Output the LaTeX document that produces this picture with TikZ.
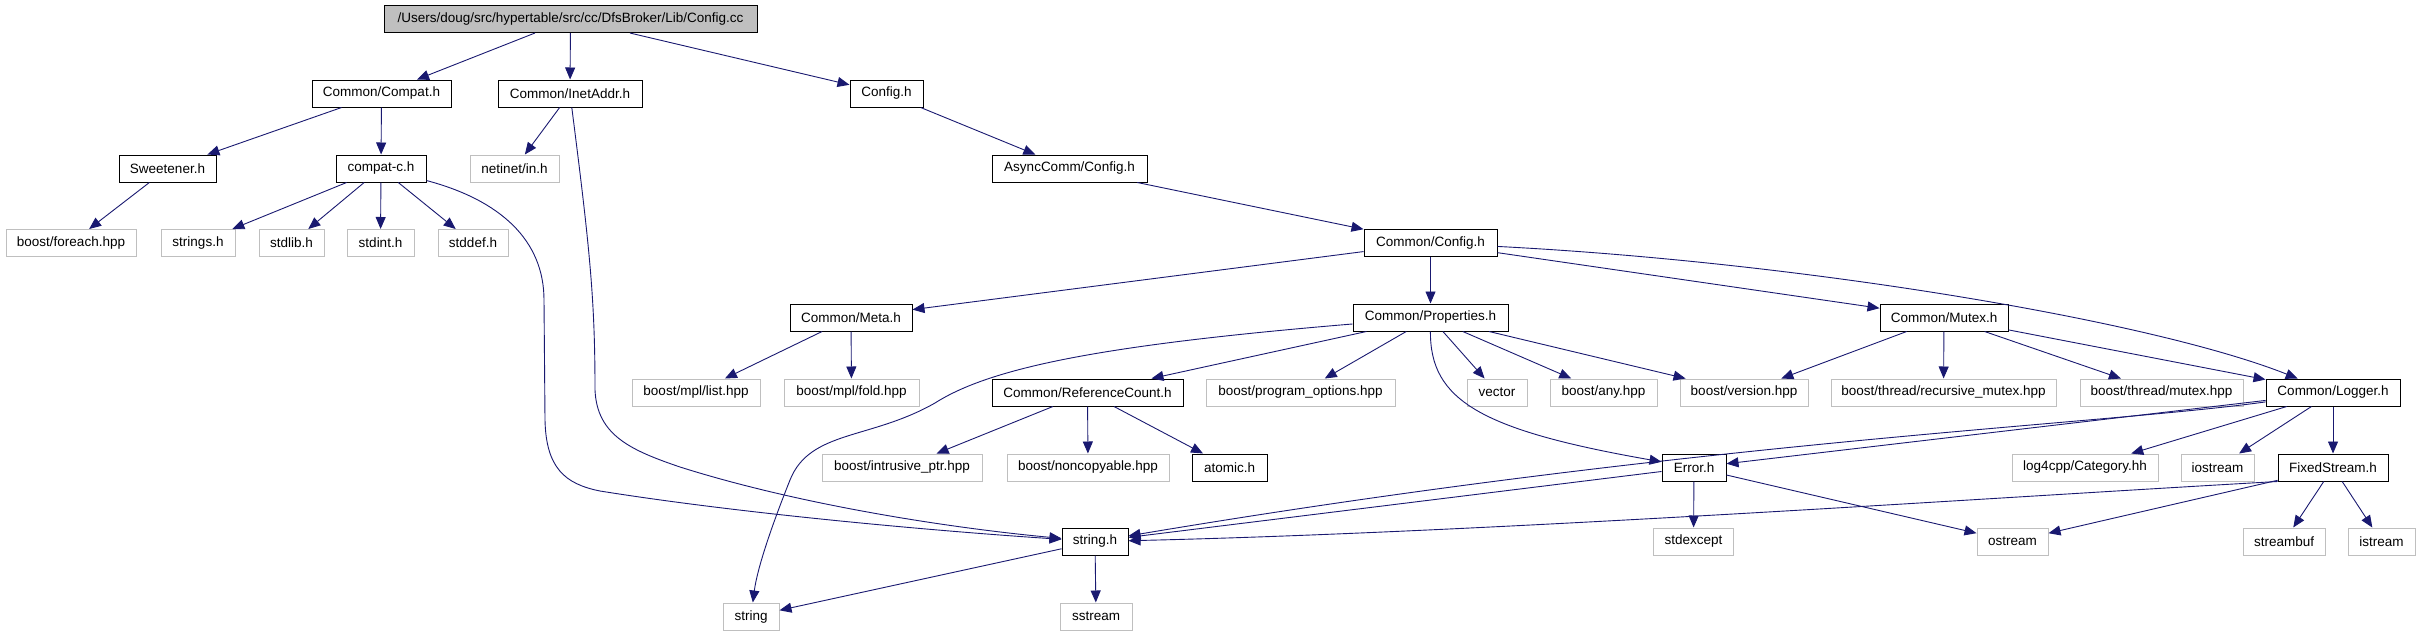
\documentclass[tikz,border=0pt]{standalone}
\usepackage{fontspec}
\setmainfont{Liberation Sans}
\usetikzlibrary{arrows.meta}
\definecolor{edgec}{HTML}{191970}
\definecolor{extc}{HTML}{BFBFBF}
\begin{document}
\begin{tikzpicture}[x=1pt,y=-1pt,
 box/.style={draw=black, line width=1pt, minimum height=27pt, inner sep=0pt, font=\fontsize{13.5}{16}\selectfont},
 ext/.style={box, draw=extc},
 rootbox/.style={box, fill=extc},
 edge/.style={draw=edgec, line width=0.9pt, -{Triangle[length=12pt,width=10pt]}}]
\useasboundingbox (0,0) rectangle (2427,635);
% row 0
\node[rootbox, minimum width=373pt] (root) at (570.5,19) {/Users/doug/src/hypertable/src/cc/DfsBroker/Lib/Config.cc};
% row 1
\node[box, minimum width=139pt] (compat) at (381.5,93.5) {Common/Compat.h};
\node[box, minimum width=144pt] (inet) at (570,93.5) {Common/InetAddr.h};
\node[box, minimum width=73pt] (cfgh) at (886.5,93.5) {Config.h};
% row 2
\node[box, minimum width=97pt] (sweet) at (167.5,168.5) {Sweetener.h};
\node[box, minimum width=90pt] (compatc) at (381,168.5) {compat-c.h};
\node[ext, minimum width=89pt] (netinet) at (514.5,168.5) {netinet/in.h};
\node[box, minimum width=155pt] (async) at (1069.5,168.5) {AsyncComm/Config.h};
% row 3
\node[ext, minimum width=130pt] (foreach) at (71,243) {boost/foreach.hpp};
\node[ext, minimum width=74pt] (strings) at (198,243) {strings.h};
\node[ext, minimum width=65pt] (stdlib) at (291.5,243) {stdlib.h};
\node[ext, minimum width=67pt] (stdint) at (380.5,243) {stdint.h};
\node[ext, minimum width=70pt] (stddef) at (473,243) {stddef.h};
\node[box, minimum width=133pt] (ccfg) at (1430.5,243) {Common/Config.h};
% row 4
\node[box, minimum width=122pt] (meta) at (851,317.5) {Common/Meta.h};
\node[box, minimum width=155pt] (props) at (1430.5,317.5) {Common/Properties.h};
\node[box, minimum width=128pt] (mutex) at (1944,317.5) {Common/Mutex.h};
% row 5
\node[ext, minimum width=128pt] (mpllist) at (696,392.5) {boost/mpl/list.hpp};
\node[ext, minimum width=135pt] (mplfold) at (851.5,392.5) {boost/mpl/fold.hpp};
\node[box, minimum width=191pt] (refc) at (1087.5,392.5) {Common/ReferenceCount.h};
\node[ext, minimum width=189pt] (progopt) at (1300.5,392.5) {boost/program\_options.hpp};
\node[ext, minimum width=60pt] (vector) at (1497,392.5) {vector};
\node[ext, minimum width=107pt] (any) at (1603.5,392.5) {boost/any.hpp};
\node[ext, minimum width=128pt] (version) at (1744,392.5) {boost/version.hpp};
\node[ext, minimum width=225pt] (recmutex) at (1943.5,392.5) {boost/thread/recursive\_mutex.hpp};
\node[ext, minimum width=163pt] (thrmutex) at (2161.5,392.5) {boost/thread/mutex.hpp};
\node[box, minimum width=134pt] (logger) at (2333,392.5) {Common/Logger.h};
% row 6
\node[ext, minimum width=160pt] (intrusive) at (902,467.5) {boost/intrusive\_ptr.hpp};
\node[ext, minimum width=162pt] (noncopy) at (1088,467.5) {boost/noncopyable.hpp};
\node[box, minimum width=75pt] (atomic) at (1229.5,467.5) {atomic.h};
\node[box, minimum width=64pt] (error) at (1694,467.5) {Error.h};
\node[ext, minimum width=146pt] (log4cpp) at (2085,467.5) {log4cpp/Category.hh};
\node[ext, minimum width=73pt] (iostream) at (2217.5,467.5) {iostream};
\node[box, minimum width=110pt] (fixed) at (2333,467.5) {FixedStream.h};
% row 7
\node[box, minimum width=66pt] (stringh) at (1095,541.5) {string.h};
\node[ext, minimum width=80pt] (stdexcept) at (1693.5,541.5) {stdexcept};
\node[ext, minimum width=71pt] (ostream) at (2012.5,541.5) {ostream};
\node[ext, minimum width=82pt] (streambuf) at (2284,541.5) {streambuf};
\node[ext, minimum width=67pt] (istream) at (2381.5,541.5) {istream};
% row 8
\node[ext, minimum width=56pt] (string) at (751,616.5) {string};
\node[ext, minimum width=72pt] (sstream) at (1096,616.5) {sstream};
% edges
\draw[edge] (root) -- (compat);
\draw[edge] (root) -- (inet);
\draw[edge] (root) -- (cfgh);
\draw[edge] (compat) -- (sweet);
\draw[edge] (compat) -- (compatc);
\draw[edge] (sweet) -- (foreach);
\draw[edge] (compatc) -- (strings);
\draw[edge] (compatc) -- (stdlib);
\draw[edge] (compatc) -- (stdint);
\draw[edge] (compatc) -- (stddef);
\draw[edge] (compatc) .. controls (500,200) and (544,240) .. (544,300) -- (545,420) .. controls (546,468) and (565,484) .. (600,491) .. controls (750,515) and (950,532) .. (stringh);
\draw[edge] (inet) -- (netinet);
\draw[edge] (inet) .. controls (590,250) and (595,300) .. (595,390) .. controls (597,435) and (630,450) .. (680,467) .. controls (800,505) and (950,528) .. (stringh);
\draw[edge] (cfgh) -- (async);
\draw[edge] (async) -- (ccfg);
\draw[edge] (ccfg) -- (meta);
\draw[edge] (ccfg) -- (props);
\draw[edge] (ccfg) -- (mutex);
\draw[edge] (ccfg) .. controls (1800,262) and (2150,320) .. (logger);
\draw[edge] (meta) -- (mpllist);
\draw[edge] (meta) -- (mplfold);
\draw[edge] (props) .. controls (1100,345) and (990,368) .. (935,403) .. controls (870,440) and (810,430) .. (790,480) .. controls (770,530) and (757,570) .. (string);
\draw[edge] (props) -- (refc);
\draw[edge] (props) -- (progopt);
\draw[edge] (props) -- (vector);
\draw[edge] (props) -- (any);
\draw[edge] (props) -- (version);
\draw[edge] (props) .. controls (1430,400) and (1480,430) .. (error);
\draw[edge] (refc) -- (intrusive);
\draw[edge] (refc) -- (noncopy);
\draw[edge] (refc) -- (atomic);
\draw[edge] (mutex) -- (version);
\draw[edge] (mutex) -- (recmutex);
\draw[edge] (mutex) -- (thrmutex);
\draw[edge] (mutex) -- (logger);
\draw[edge] (logger) .. controls (2100,425) and (1700,440) .. (stringh);
\draw[edge] (logger) -- (error);
\draw[edge] (logger) -- (log4cpp);
\draw[edge] (logger) -- (iostream);
\draw[edge] (logger) -- (fixed);
\draw[edge] (error) -- (stringh);
\draw[edge] (error) -- (stdexcept);
\draw[edge] (error) -- (ostream);
\draw[edge] (fixed.south west) .. controls (2000,497) and (1500,532) .. (stringh);
\draw[edge] (fixed) -- (ostream);
\draw[edge] (fixed) -- (streambuf);
\draw[edge] (fixed) -- (istream);
\draw[edge] (stringh) -- (string);
\draw[edge] (stringh) -- (sstream);
\end{tikzpicture}
\end{document}
